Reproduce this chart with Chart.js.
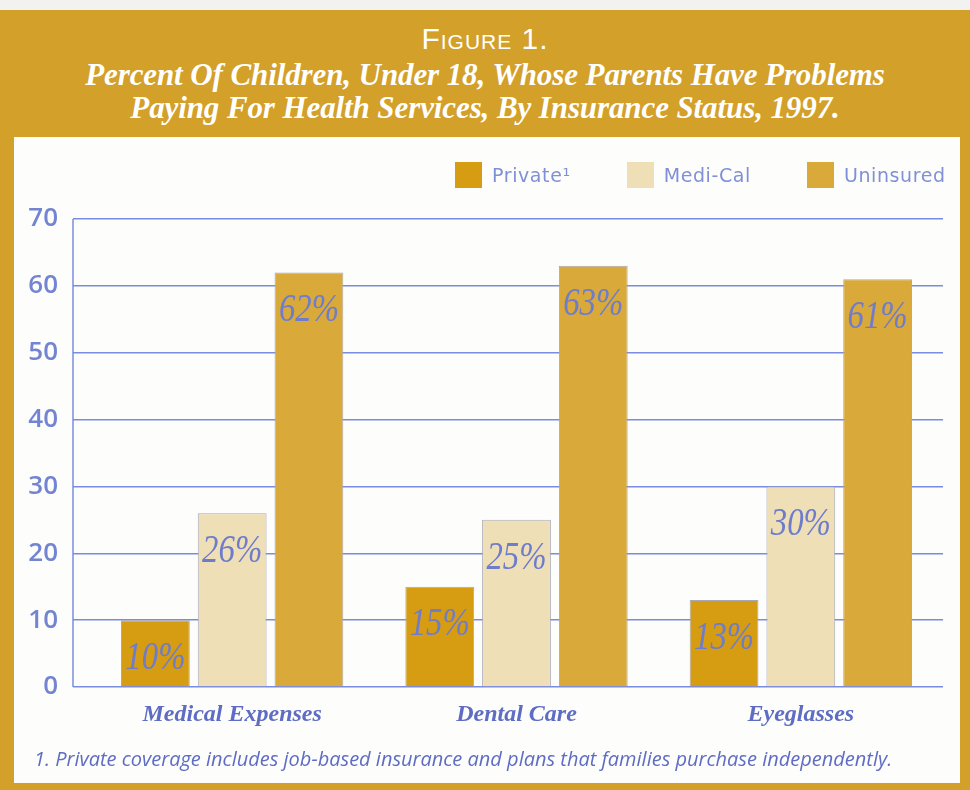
<!DOCTYPE html>
<html>
<head>
<meta charset="utf-8">
<script src="https://cdn.jsdelivr.net/npm/chart.js@4.4.1/dist/chart.umd.min.js"></script>
<style>
  html, body { margin: 0; padding: 0; background: #f2f2f0; }
  #frame { position: absolute; left: 0; top: 10px; width: 970px; height: 780px; background: #d3a02a; }
  #fig { position: absolute; left: 0; top: 12px; width: 970px; text-align: center; color: #fff;
         font: 30px "Liberation Sans Narrow", "Liberation Sans", sans-serif; font-variant: small-caps; letter-spacing: 1px; }
  #title { position: absolute; left: 0; top: 48px; width: 970px; text-align: center; color: #fff;
           font: italic bold 31px/33px "Liberation Serif", serif; letter-spacing: -0.1px; }
  #panel { position: absolute; left: 14px; top: 127px; width: 946px; height: 646px; background: #fdfdfb; }
  #chart { position: absolute; left: 0; top: 0; }
  #legend { position: absolute; left: 441px; top: 25px; display: flex; align-items: center; white-space: nowrap;
            font: 19px "DejaVu Sans", sans-serif; letter-spacing: 0.6px; color: #8090d6; }
  #legend .item { display: flex; align-items: center; margin-right: 56px; }
  #legend .box { width: 27px; height: 26px; margin-right: 10px; }
  #note { position: absolute; left: 20px; top: 608px; font: italic 20px "Open Sans", sans-serif; color: #5e6cc4; }
</style>
</head>
<body>
<div id="frame">
  <div id="fig">Figure 1.</div>
  <div id="title">Percent Of Children, Under 18, Whose Parents Have Problems<br>Paying For Health Services, By Insurance Status, 1997.</div>
  <div id="panel">
    <canvas id="chart" width="946" height="646"></canvas>
    <div id="legend"></div>
    <div id="note">1. Private coverage includes job-based insurance and plans that families purchase independently.</div>
  </div>
</div>
<script>
// ---------- Data ----------
const categories = ["Medical Expenses", "Dental Care", "Eyeglasses"];
const seriesNames = ["Private\u00b9", "Medi-Cal", "Uninsured"];
const privateValues = [10, 15, 13];
const mediCalValues = [26, 25, 30];
const uninsuredValues = [62, 63, 61];
const yTicks = [0, 10, 20, 30, 40, 50, 60, 70];

const seriesColors = ["#d69c12", "#efdfb7", "#d9a93a"];
const blue = "#7a8ce0";

// ---------- Legend ----------
const legendEl = document.getElementById("legend");
seriesNames.forEach((name, i) => {
  legendEl.insertAdjacentHTML("beforeend",
    `<div class="item"><div class="box" style="background:${seriesColors[i]}"></div><span>${name}</span></div>`);
});

// ---------- Plugins ----------
const axisLine = {
  id: "axisLine",
  beforeDatasetsDraw(chart) {
    const { ctx, chartArea } = chart;
    ctx.save();
    ctx.strokeStyle = blue;
    ctx.lineWidth = 1.5;
    ctx.beginPath();
    ctx.moveTo(chartArea.left - 17, chartArea.top);
    ctx.lineTo(chartArea.left - 17, chartArea.bottom);
    ctx.stroke();
    ctx.restore();
  }
};

const valueLabels = {
  id: "valueLabels",
  afterDatasetsDraw(chart) {
    const ctx = chart.ctx;
    ctx.save();
    ctx.fillStyle = "#6e7ccb";
    ctx.textAlign = "center";
    ctx.textBaseline = "middle";
    ctx.font = 'italic 41px "Liberation Serif", serif';
    chart.data.datasets.forEach((ds, i) => {
      chart.getDatasetMeta(i).data.forEach((bar, j) => {
        ctx.save();
        ctx.translate(bar.x, bar.y + 38);
        ctx.scale(0.8, 1);
        ctx.fillText(ds.data[j] + "%", 0, 0);
        ctx.restore();
      });
    });
    ctx.restore();
  }
};

// ---------- Chart ----------
const ctx = document.getElementById("chart").getContext("2d");
const chart = new Chart(ctx, {
  type: "bar",
  data: {
    labels: categories,
    datasets: [privateValues, mediCalValues, uninsuredValues].map((vals, i) => ({
      label: seriesNames[i],
      data: vals,
      backgroundColor: seriesColors[i],
      borderColor: "#a9a9b6",
      borderWidth: 1,
      barPercentage: 0.896,
      categoryPercentage: 0.81
    }))
  },
  options: {
    responsive: false,
    animation: false,
    layout: { padding: { top: 82, right: 17, bottom: 36, left: 0 } },
    plugins: { legend: { display: false }, tooltip: { enabled: false } },
    scales: {
      x: {
        grid: { display: false },
        border: { display: false },
        ticks: {
          color: "#5e6cc4",
          padding: 5,
          font: { family: '"Liberation Serif", serif', size: 24, style: "italic", weight: "bold" }
        },
        afterFit: s => { s.height = 60; }
      },
      y: {
        min: 0,
        max: 70,
        afterBuildTicks: s => { s.ticks = yTicks.map(v => ({ value: v })); },
        grid: { color: blue, lineWidth: 1.5, drawTicks: true, tickLength: 17 },
        border: { display: false },
        ticks: {
          color: "#7384d2",
          padding: 15,
          font: { family: '"Open Sans", sans-serif', size: 26, weight: "600" }
        },
        afterFit: s => { s.width = 76; }
      }
    }
  },
  plugins: [axisLine, valueLabels]
});
</script>
</body>
</html>
